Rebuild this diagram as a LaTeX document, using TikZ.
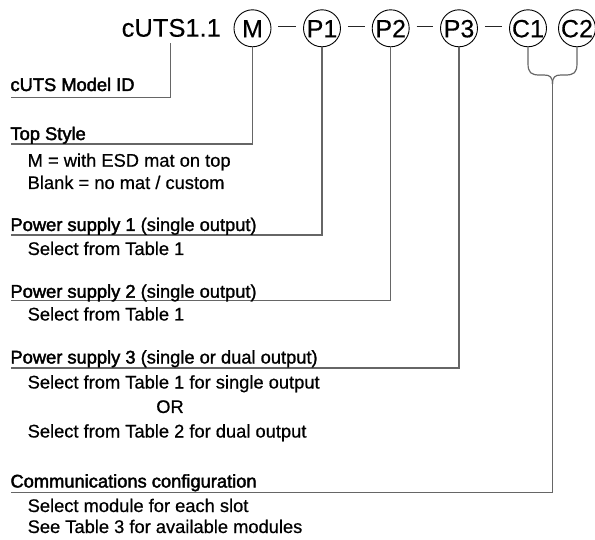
\documentclass[tikz,border=0pt]{standalone}
\usepackage{fontspec}
\setmainfont[FakeBold=0.6]{Liberation Sans}
\newfontfamily\tfont[FakeBold=2.2]{Liberation Sans}
\newfontfamily\mfont[FakeBold=1.2]{Liberation Sans}
\newfontfamily\cfont[FakeBold=0.3]{Liberation Sans}
\begin{document}
\begin{tikzpicture}[x=1pt,y=-1pt,
  ring/.style={circle, draw=black, line width=0.9pt, minimum size=37pt, inner sep=0pt,
    font=\fontsize{25}{28}\cfont, text height=18pt, text depth=0pt},
  leader/.style={draw=black!60, line width=1.2pt},
  dashln/.style={draw=black!85, line width=0.9pt, shorten <=7pt, shorten >=7pt},
  title/.style={anchor=base west, inner sep=0pt, font=\fontsize{18.3}{21}\tfont},
  sub/.style={anchor=base west, inner sep=0pt, font=\fontsize{18.3}{21}\selectfont}]
\useasboundingbox (0,0) rectangle (595,540);

% model string
\node[anchor=base west, inner sep=0pt, font=\fontsize{25.5}{28}\cfont] (cuts) at (121.5,36.7) {cUTS1.1};
\node[ring] (M)  at (252.5,28.3) {M};
\node[ring] (P1) at (322,28.3) {P1};
\node[ring] (P2) at (390.7,28.3) {P2};
\node[ring] (P3) at (459,28.3) {P3};
\node[ring] (C1) at (528,28.3) {C1};
\node[ring] (C2) at (577,28.3) {C2};

\draw[dashln] ([yshift=1.6pt]M.east)  -- ([yshift=1.6pt]P1.west);
\draw[dashln] ([yshift=1.6pt]P1.east) -- ([yshift=1.6pt]P2.west);
\draw[dashln] ([yshift=1.6pt]P2.east) -- ([yshift=1.6pt]P3.west);
\draw[dashln] ([yshift=1.6pt]P3.east) -- ([yshift=1.6pt]C1.west);

% underline ends
\coordinate (cutsfoot) at (170.5,43.3);
\coordinate (u0) at (10.5,97.7);
\coordinate (u1) at (10.5,144);
\coordinate (u2) at (10.5,235);
\coordinate (u3) at (10.5,300.7);
\coordinate (u4) at (10.5,368);
\coordinate (u5) at (10.5,492.5);
\coordinate (cj) at (552.5,84);

% leaders
\draw[leader] (cutsfoot) |- (u0);
\draw[leader] (M.south) |- (u1);
\draw[leader] (P1.south) |- (u2);
\draw[leader] (P2.south) |- (u3);
\draw[leader] (P3.south) |- (u4);
\draw[leader] (C1.south) -- (528,63) .. controls (528,73) and (531,75) .. (540,75)
   -- (544,75) .. controls (550,75) and (552.5,77) .. (cj);
\draw[leader] (C2.south) -- (577,63) .. controls (577,73) and (574,75) .. (565,75)
   -- (561,75) .. controls (555,75) and (552.5,77) .. (cj);
\draw[leader] (cj) |- (u5);

% labels
\node[title] (t0) at (10.3,91) {cUTS Model ID};
\node[title] (t1) at (10.3,140) {Top Style};
\node[sub] (s11) at (27.5,166.7) {M = with ESD mat on top};
\node[sub] (s12) at (27.5,189) {Blank = no mat / custom};
\node[title] (t2) at (10.3,231) {Power supply 1 {\mfont(single output)}};
\node[sub] (s21) at (27.5,255) {Select from Table 1};
\node[title] (t3) at (10.3,297.7) {Power supply 2 {\mfont(single output)}};
\node[sub] (s31) at (27.5,320.5) {Select from Table 1};
\node[title] (t4) at (10.3,363.5) {Power supply 3 {\mfont(single or dual output)}};
\node[sub] (s41) at (27.5,388.5) {Select from Table 1 for single output};
\node[anchor=base, inner sep=0pt, font=\fontsize{18.3}{21}\selectfont] (s42) at (170,413) {OR};
\node[sub] (s43) at (27.5,437.5) {Select from Table 2 for dual output};
\node[title] (t5) at (10.3,487.5) {Communications configuration};
\node[sub] (s51) at (27.5,512) {Select module for each slot};
\node[sub] (s52) at (27.5,533) {See Table 3 for available modules};
\end{tikzpicture}
\end{document}
